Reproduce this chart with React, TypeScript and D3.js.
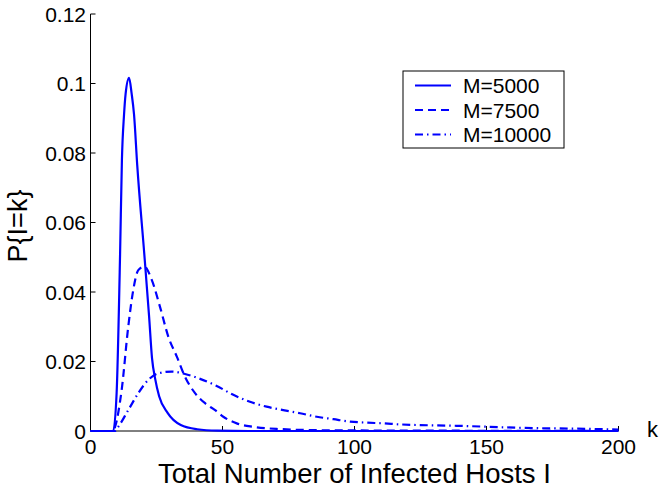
import React from "react";
import * as d3 from "d3";

// Distribution of total infected hosts for three address-space sizes M
const k5000 = [0, 8.6, 9.9, 11.2, 11.9, 12.7, 13.3, 14.6, 15.6, 16.5, 17.7, 20.4, 22.2, 23.3, 24.5, 26, 29.2, 34.2, 40.4, 48, 60, 200];
const p5000 = [0, 0, 0.011, 0.0507, 0.078, 0.091, 0.097, 0.1016, 0.097, 0.091, 0.0765, 0.0507, 0.0329, 0.021, 0.015, 0.01, 0.0052, 0.0017, 0.0005, 0.0001, 0, 0];

const k7500 = [0, 8.6, 9.3, 11.8, 14.3, 16.2, 18.1, 20.4, 23.2, 26.3, 29.5, 32.7, 35.8, 39.6, 43.4, 47.2, 50.3, 55.4, 61.7, 70.5, 90, 130, 200];
const p7500 = [0, 0, 0.0012, 0.0118, 0.03, 0.0406, 0.0463, 0.0473, 0.0435, 0.0358, 0.0271, 0.0214, 0.0156, 0.0109, 0.008, 0.006, 0.0041, 0.0022, 0.0012, 0.0006, 0.0002, 0.0001, 0];

const k10000 = [0, 9.2, 10.5, 14.3, 18.1, 21.9, 25.7, 30.8, 35.8, 40.8, 47.2, 54.1, 60.4, 66.7, 73, 79.4, 85.7, 92, 98.3, 104.6, 110.9, 117.2, 138.7, 164, 195.5, 200];
const p10000 = [0, 0, 0.0012, 0.006, 0.0109, 0.0147, 0.0166, 0.0171, 0.0164, 0.0152, 0.0132, 0.0104, 0.0084, 0.007, 0.006, 0.0051, 0.0041, 0.0034, 0.0027, 0.0024, 0.0022, 0.0019, 0.0015, 0.0009, 0.0005, 0.0004];

const seriesLabels = ["M=5000", "M=7500", "M=10000"];
const xTicks = [0, 50, 100, 150, 200];
const yTicks = [0, 0.02, 0.04, 0.06, 0.08, 0.1, 0.12];

const W = 661;
const H = 489;
const FONT = "'Liberation Sans', Arial, Helvetica, sans-serif";
const BLUE = "#0000ff";
const dashes = ["none", "8,5", "8,4,1.5,4"];

export default function App() {
  const x = d3.scaleLinear().domain([0, 200]).range([90.5, 618.5]);
  const y = d3.scaleLinear().domain([0, 0.12]).range([431, 14]);

  const series = [
    { k: k5000, p: p5000 },
    { k: k7500, p: p7500 },
    { k: k10000, p: p10000 },
  ];

  const line = d3
    .line<[number, number]>()
    .x((d) => x(d[0]))
    .y((d) => y(d[1]))
    .curve(d3.curveMonotoneX);

  const yFmt = (v: number) => (v === 0 ? "0" : String(+v.toFixed(2)));

  const legendX = 403;
  const legendY = 71;
  const legendRows = [85.5, 110, 134.5];

  return (
    <svg
      width={W}
      height={H}
      style={{ position: "fixed", left: 0, top: 0, background: "#fff" }}
      fontFamily={FONT}
    >
      <rect x={0} y={0} width={W} height={H} fill="#fff" />

      {/* axes */}
      <line x1={x(0)} x2={x(0)} y1={y(0.12)} y2={y(0)} stroke="#000" strokeWidth={1} />
      <line x1={x(0)} x2={x(200)} y1={y(0)} y2={y(0)} stroke="#000" strokeWidth={1} />

      {yTicks.map((t) => (
        <g key={"y" + t}>
          <line x1={x(0)} x2={x(0) + 5} y1={y(t)} y2={y(t)} stroke="#000" strokeWidth={1} />
          <text x={86} y={y(t)} dy="0.36em" textAnchor="end" fontSize={21} fill="#000">
            {yFmt(t)}
          </text>
        </g>
      ))}

      {xTicks.map((t) => (
        <g key={"x" + t}>
          <line x1={x(t)} x2={x(t)} y1={y(0)} y2={y(0) - 5} stroke="#000" strokeWidth={1} />
          <text x={x(t)} y={453.5} textAnchor="middle" fontSize={21} fill="#000">
            {t}
          </text>
        </g>
      ))}

      {/* curves */}
      {series.map((s, i) => (
        <path
          key={"s" + i}
          d={line(s.k.map((kv, j) => [kv, s.p[j]] as [number, number])) || ""}
          fill="none"
          stroke={BLUE}
          strokeWidth={2.2}
          strokeDasharray={dashes[i]}
          strokeLinejoin="round"
        />
      ))}

      {/* axis titles */}
      <text x={647} y={437} fontSize={22} fill="#000">
        k
      </text>
      <text x={x(100)} y={483} textAnchor="middle" fontSize={27.5} fill="#000">
        Total Number of Infected Hosts I
      </text>
      <text
        transform={`translate(27,226) rotate(-90)`}
        textAnchor="middle"
        fontSize={27}
        fill="#000"
      >
        {"P{I=k}"}
      </text>

      {/* legend */}
      <rect x={legendX} y={legendY} width={161} height={77} fill="#fff" stroke="#000" strokeWidth={1} />
      {seriesLabels.map((lab, i) => (
        <g key={"l" + i}>
          <line
            x1={415}
            x2={451}
            y1={legendRows[i]}
            y2={legendRows[i]}
            stroke={BLUE}
            strokeWidth={2.2}
            strokeDasharray={dashes[i]}
          />
          <text x={463} y={legendRows[i]} dy="0.36em" fontSize={21} fill="#000">
            {lab}
          </text>
        </g>
      ))}
    </svg>
  );
}
